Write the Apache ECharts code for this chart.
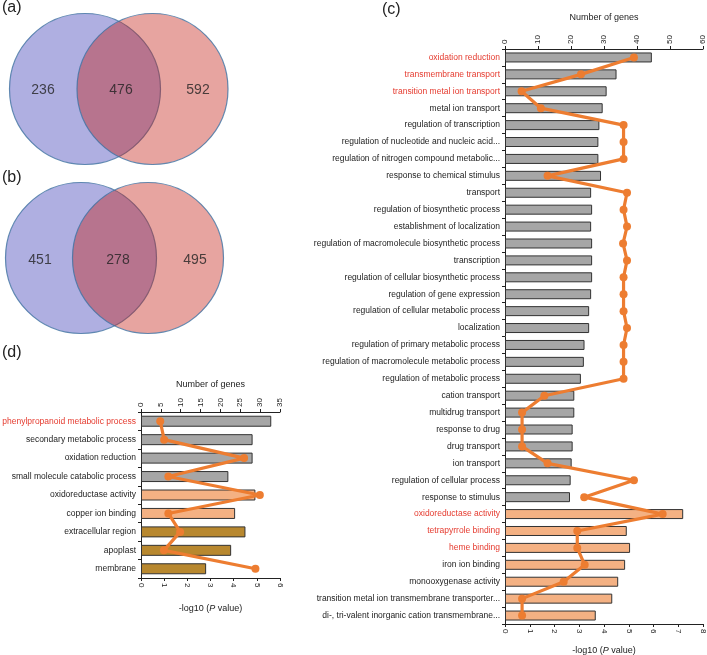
<!DOCTYPE html>
<html><head><meta charset="utf-8">
<script src="https://cdn.jsdelivr.net/npm/echarts@6/dist/echarts.min.js"></script>
<style>html,body{margin:0;padding:0;background:#fff}#c{width:707px;height:655px}</style>
</head><body><div id="c"></div>
<script>
// ---- Venn data ----
var vennA = [236, 476, 592];
var vennB = [451, 278, 495];
// ---- Panel (c) ----
var catsC = ['oxidation reduction','transmembrane transport','transition metal ion transport','metal ion transport','regulation of transcription','regulation of nucleotide and nucleic acid...','regulation of nitrogen compound metabolic...','response to chemical stimulus','transport','regulation of biosynthetic process','establishment of localization','regulation of macromolecule biosynthetic process','transcription','regulation of cellular biosynthetic process','regulation of gene expression','regulation of cellular metabolic process','localization','regulation of primary metabolic process','regulation of macromolecule metabolic process','regulation of metabolic process','cation transport','multidrug transport','response to drug','drug transport','ion transport','regulation of cellular process','response to stimulus','oxidoreductase activity','tetrapyrrole binding','heme binding','iron ion binding','monooxygenase activity','transition metal ion transmembrane transporter...','di-, tri-valent inorganic cation transmembrane...'];
var genesC = [44.5,33.8,30.8,29.6,28.6,28.3,28.3,29.1,26.1,26.4,26.1,26.4,26.4,26.4,26.1,25.5,25.5,24.1,23.9,23.0,21.0,21.0,20.5,20.5,20.2,19.9,19.7,54.0,36.9,37.9,36.4,34.3,32.5,27.5];
var pC = [5.21,3.07,0.67,1.45,4.79,4.79,4.79,1.72,4.93,4.79,4.93,4.77,4.93,4.79,4.79,4.79,4.93,4.79,4.79,4.79,1.59,0.69,0.69,0.69,1.72,5.21,3.2,6.37,2.92,2.92,3.22,2.37,0.69,0.69];
var groupC = [0,0,0,0,0,0,0,0,0,0,0,0,0,0,0,0,0,0,0,0,0,0,0,0,0,0,0,1,1,1,1,1,1,1];
var redC = [0,1,2,27,28,29];
var genesTicksC = [0,10,20,30,40,50,60];
var pTicksC = [0,1,2,3,4,5,6,7,8];
// ---- Panel (d) ----
var catsD = ['phenylpropanoid metabolic process','secondary metabolic process','oxidation reduction','small molecule catabolic process','oxidoreductase activity','copper ion binding','extracellular region','apoplast','membrane'];
var genesD = [32.8,28.1,28.1,22.0,28.8,23.7,26.3,22.7,16.4];
var pD = [0.83,1.0,4.45,1.18,5.13,1.18,1.69,0.99,4.94];
var groupD = [0,0,0,0,1,1,2,2,2];
var redD = [0];
var genesTicksD = [0,5,10,15,20,25,30,35];
var pTicksD = [0,1,2,3,4,5,6];

var FONT = 'Liberation Sans, Arial, sans-serif';
var barColors = ['#a6a6a6', '#f4b183', '#b8882f'];
var RED = '#e53b2f';
var ORANGE = '#ed7d31';

var chart = echarts.init(document.getElementById('c'), null, {renderer:'canvas'});

function valAxis(grid, pos, ticks, name, nameGap, italic) {
  return {
    type:'value', gridIndex:grid, position:pos,
    min:ticks[0], max:ticks[ticks.length-1], interval:ticks[1]-ticks[0],
    name: italic ? '-log10 ({i|P} value)' : name,
    nameLocation:'middle', nameGap:nameGap,
    nameTextStyle:{fontFamily:FONT, fontSize:9, color:'#222', rich:{i:{fontStyle:'italic', fontFamily:FONT, fontSize:9, color:'#222'}}},
    axisLine:{show:true, lineStyle:{color:'#222', width:1}},
    axisTick:{show:true, length:3, lineStyle:{color:'#222'}},
    axisLabel:{rotate:-90, fontFamily:FONT, fontSize:8, color:'#222', margin:5},
    splitLine:{show:false}
  };
}
function catAxis(grid, cats, reds) {
  return {
    type:'category', gridIndex:grid, data:cats, inverse:true,
    axisLine:{show:true, lineStyle:{color:'#222', width:1}},
    axisTick:{show:true, length:3, lineStyle:{color:'#222'}},
    axisLabel:{fontFamily:FONT, fontSize:8.5, margin:5,
      color:function(v, i){ return reds.indexOf(i) >= 0 ? RED : '#222'; }},
    splitLine:{show:false}
  };
}
function barData(vals, groups) {
  return vals.map(function(v, i){ return {value:v, itemStyle:{color:barColors[groups[i]]}}; });
}
function lineData(vals) {
  return vals.map(function(v, i){ return [v, i]; });
}

chart.setOption({
  animation:false,
  graphic:[
    {type:'text', left:2, top:0, style:{text:'(a)', font:'16px '+FONT, fill:'#222'}},
    {type:'text', left:2, top:170, style:{text:'(b)', font:'16px '+FONT, fill:'#222'}},
    {type:'text', left:382, top:2, style:{text:'(c)', font:'16px '+FONT, fill:'#222'}},
    {type:'text', left:2, top:345, style:{text:'(d)', font:'16px '+FONT, fill:'#222'}}
  ],
  grid:[
    {left:505, top:49, width:198, height:575, containLabel:false, outerBoundsMode:'none'},
    {left:141, top:412, width:139, height:166, containLabel:false, outerBoundsMode:'none'},
    {left:0, top:0, width:240, height:340, containLabel:false, outerBoundsMode:'none'}
  ],
  xAxis:[
    valAxis(0, 'top', genesTicksC, 'Number of genes', 27, false),
    valAxis(0, 'bottom', pTicksC, '', 22, true),
    valAxis(1, 'top', genesTicksD, 'Number of genes', 23, false),
    valAxis(1, 'bottom', pTicksD, '', 26, true),
    {type:'value', gridIndex:2, min:0, max:240, show:false}
  ],
  yAxis:[
    catAxis(0, catsC, redC),
    catAxis(1, catsD, redD),
    {type:'value', gridIndex:2, min:0, max:340, inverse:true, show:false}
  ],
  series:[
    {type:'bar', xAxisIndex:0, yAxisIndex:0, barWidth:10, data:barData(genesC, groupC),
     itemStyle:{borderColor:'#333', borderWidth:1}},
    {type:'line', xAxisIndex:1, yAxisIndex:0, data:lineData(pC), symbol:'circle', symbolSize:8,
     lineStyle:{color:ORANGE, width:3.2}, itemStyle:{color:ORANGE}, z:5},
    {type:'bar', xAxisIndex:2, yAxisIndex:1, barWidth:11, data:barData(genesD, groupD),
     itemStyle:{borderColor:'#333', borderWidth:1}},
    {type:'line', xAxisIndex:3, yAxisIndex:1, data:lineData(pD), symbol:'circle', symbolSize:8,
     lineStyle:{color:ORANGE, width:3.2}, itemStyle:{color:ORANGE}, z:5},
    // Venn circles
    {type:'scatter', xAxisIndex:4, yAxisIndex:2, symbol:'circle', symbolSize:151, silent:true,
     data:[
       {value:[85,89], itemStyle:{color:'rgba(55,55,180,0.5)', borderColor:'#3f70a0', borderWidth:1.2}},
       {value:[152.5,89], itemStyle:{color:'rgba(195,28,18,0.5)', borderColor:'#3f70a0', borderWidth:1.2}},
       {value:[81,258], itemStyle:{color:'rgba(55,55,180,0.5)', borderColor:'#3f70a0', borderWidth:1.2}},
       {value:[148,258], itemStyle:{color:'rgba(195,28,18,0.5)', borderColor:'#3f70a0', borderWidth:1.2}}
     ]},
    {type:'scatter', xAxisIndex:4, yAxisIndex:2, symbolSize:1, itemStyle:{color:'rgba(0,0,0,0)'}, silent:true,
     label:{show:true, position:'inside', fontFamily:FONT, fontSize:14, color:'#222',
       formatter:function(p){ return String(p.data.n); }},
     data:[
       {value:[43,90], n:vennA[0]}, {value:[121,90], n:vennA[1]}, {value:[198,90], n:vennA[2]},
       {value:[40,260], n:vennB[0]}, {value:[118,260], n:vennB[1]}, {value:[195,260], n:vennB[2]}
     ], z:10}
  ]
});
</script></body></html>
